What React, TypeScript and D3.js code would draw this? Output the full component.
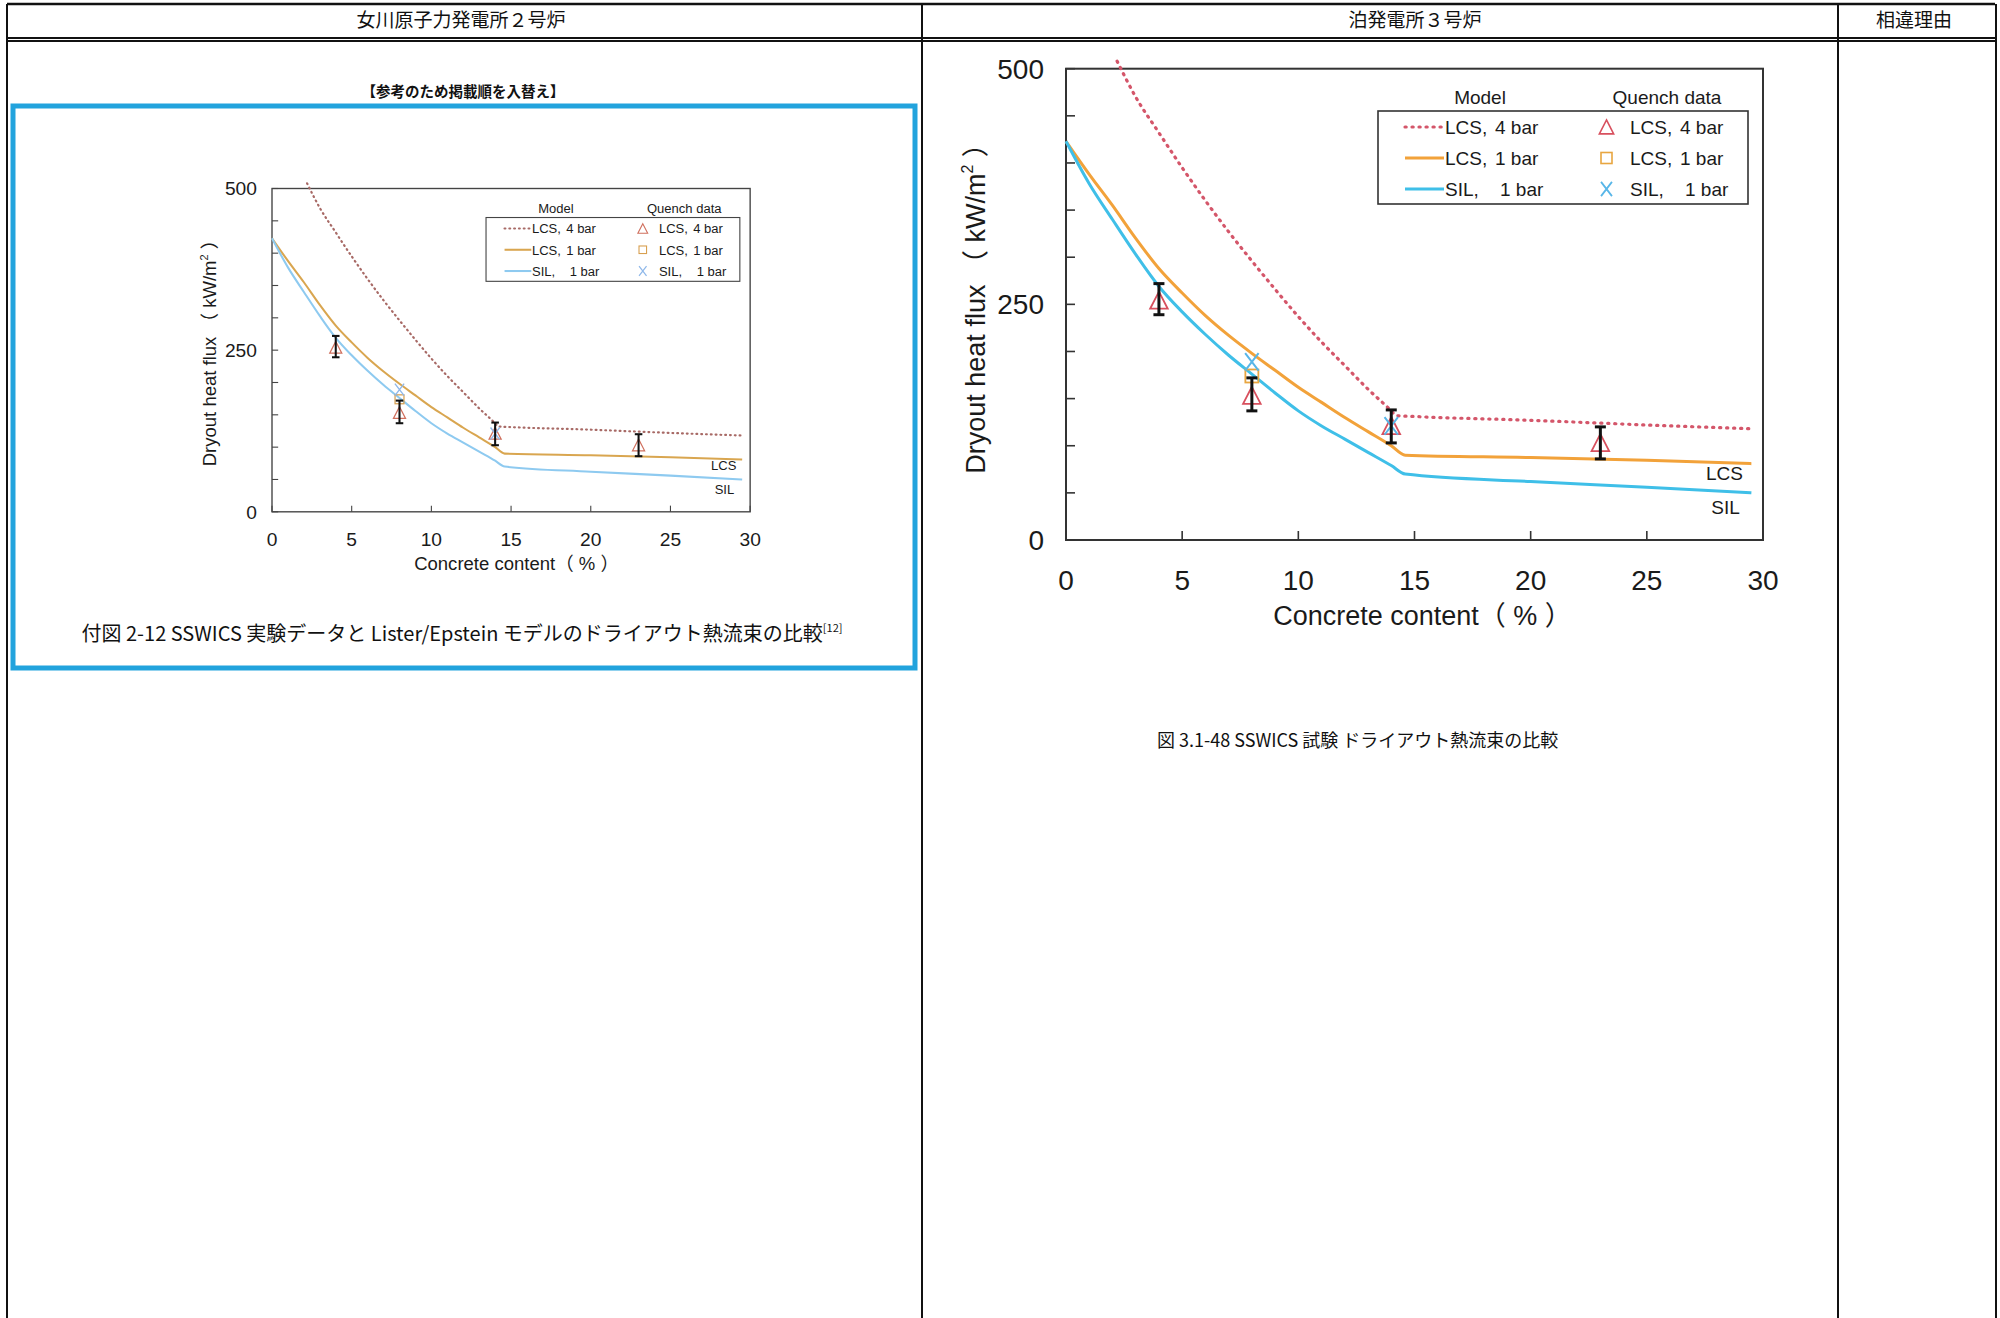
import React, { useEffect } from 'react';
import * as d3 from 'd3';

const W = 2000;
const H = 1318;

// ---- Model curves (x = concrete content %, y = dryout heat flux kW/m2) ----
const lcs4X = [2.2, 3, 4, 5, 6, 7, 8, 9, 10, 11, 12, 13, 14, 14.2, 15, 20, 23, 25, 29.5];
const lcs4Y = [508, 470, 432, 395, 360, 327, 296, 266, 237, 210, 185, 160, 137, 132, 131, 127, 124, 122, 118];
const lcs1X = [0, 1, 2, 3, 4, 5, 6, 7, 8, 9, 10, 11, 12, 13, 14, 14.6, 20, 25, 29.5];
const lcs1Y = [423, 388, 355, 320, 288, 262, 238, 217, 198, 180, 162, 146, 130, 115, 100, 90, 87.5, 84.5, 81];
const sil1X = [0, 1, 2, 3, 4, 5, 6, 7, 8, 9, 10, 11, 12, 13, 14, 14.6, 20, 25, 29.5];
const sil1Y = [423, 378, 340, 303, 269, 242, 218, 196, 176, 156, 137, 121, 107, 93, 79, 70, 62, 56, 50];

// ---- Quench data ----
const triX = [4, 8, 14, 23];
const triY = [253, 152, 120, 102];
const sqX = [8];
const sqY = [174];
const crossX = [8, 14];
const crossY = [189, 121];
const errX = [4, 8, 14, 23];
const errLo = [239, 137, 103, 86];
const errHi = [272, 172, 138, 120];

// ---- Axes ----
const yTicks = [0, 50, 100, 150, 200, 250, 300, 350, 400, 450, 500];
const yLabels = [0, 250, 500];
const xTicks = [0, 5, 10, 15, 20, 25, 30];

const PW = 697;
const PH = 471.3;

type Palette = {
  id: string; dot: string; orange: string; blue: string; tri: string; sq: string; cross: string; text: string; frame: string;
};

const rightPal: Palette = {
  id: 'r', dot: '#d4566a', orange: '#f2a23a', blue: '#3fbfe8', tri: '#d8505e', sq: '#e8a640', cross: '#58b6e8', text: '#1a1a1a', frame: '#333',
};
const leftPal: Palette = {
  id: 'l', dot: '#a86a66', orange: '#d9a650', blue: '#8ecaf0', tri: '#d0705e', sq: '#d8a050', cross: '#8fb8ea', text: '#1a1a1a', frame: '#444',
};

const SANS = '"Liberation Sans", Arial, "Noto Sans CJK JP", sans-serif';
const JP = '"Noto Sans CJK JP", sans-serif';

function zip(xs: number[], ys: number[]): [number, number][] {
  return xs.map((x, i) => [x, ys[i]]);
}

function Chart({ pal }: { pal: Palette }) {
  const x = d3.scaleLinear().domain([0, 30]).range([0, PW]);
  const y = d3.scaleLinear().domain([0, 500]).range([PH, 0]);
  const line = d3.line<[number, number]>().x(d => x(d[0])).y(d => y(d[1])).curve(d3.curveMonotoneX);
  const tri = (cx: number, cy: number, s: number) =>
    `M${cx},${cy - s * 0.62} L${cx + s * 0.55},${cy + s * 0.45} L${cx - s * 0.55},${cy + s * 0.45} Z`;
  const cross = (cx: number, cy: number, s: number) =>
    `M${cx - s * 0.42},${cy - s * 0.55} L${cx + s * 0.42},${cy + s * 0.55} M${cx + s * 0.42},${cy - s * 0.55} L${cx - s * 0.42},${cy + s * 0.55}`;

  const legRows = [58.3, 89.3, 120.3];
  const legText = (lx: number, ly: number, a: string, b: string, bx: number) => (
    <g fontFamily={SANS} fontSize={19} fill={pal.text}>
      <text x={lx} y={ly + 7}>{a}</text>
      <text x={bx} y={ly + 7}>{b}</text>
    </g>
  );
  const dotDash = '1.2 5.8';

  return (
    <g>
      <clipPath id={`clip-${pal.id}`}>
        <rect x={0} y={-12} width={PW} height={PH + 12} />
      </clipPath>
      {/* frame */}
      <rect x={0} y={0} width={PW} height={PH} fill="none" stroke={pal.frame} strokeWidth={2} />
      {yTicks.map(t => (
        <line key={'yt' + t} x1={0} x2={9} y1={y(t)} y2={y(t)} stroke={pal.frame} strokeWidth={1.6} />
      ))}
      {xTicks.map(t => (
        <line key={'xt' + t} x1={x(t)} x2={x(t)} y1={PH} y2={PH - 9} stroke={pal.frame} strokeWidth={1.6} />
      ))}
      {yLabels.map(t => (
        <text key={'yl' + t} x={-22} y={y(t) + 10} textAnchor="end" fontFamily={SANS} fontSize={28} fill={pal.text}>{t}</text>
      ))}
      {xTicks.map(t => (
        <text key={'xl' + t} x={x(t)} y={PH + 50} textAnchor="middle" fontFamily={SANS} fontSize={28} fill={pal.text}>{t}</text>
      ))}
      <text x={PW / 2 + 8} y={PH + 85} textAnchor="middle" fontFamily={SANS} fontSize={27} fill={pal.text} style={{ whiteSpace: 'pre' }}>
        {'Concrete content（ % ）'}
      </text>
      <text transform={`translate(-81,${PH / 2 - 2.4}) rotate(-90)`} textAnchor="middle" fontFamily={SANS} fontSize={27} fill={pal.text} style={{ whiteSpace: 'pre' }}>
        {'Dryout heat flux （ kW/m'}
        <tspan fontSize={16} dy={-12}>2</tspan>
        <tspan dy={12}>{' ）'}</tspan>
      </text>

      {/* model lines */}
      <g clipPath={`url(#clip-${pal.id})`}>
        <path d={line(zip(lcs4X, lcs4Y)) || ''} fill="none" stroke={pal.dot} strokeWidth={3.2} strokeDasharray={dotDash} strokeLinecap="round" />
      </g>
      <path d={line(zip(lcs1X, lcs1Y)) || ''} fill="none" stroke={pal.orange} strokeWidth={3} />
      <path d={line(zip(sil1X, sil1Y)) || ''} fill="none" stroke={pal.blue} strokeWidth={3} />

      {/* quench markers */}
      {triX.map((v, i) => (
        <path key={'tr' + i} d={tri(x(v), y(triY[i]), 16)} fill="none" stroke={pal.tri} strokeWidth={1.8} />
      ))}
      {sqX.map((v, i) => (
        <rect key={'sq' + i} x={x(v) - 6.5} y={y(sqY[i]) - 6.5} width={13} height={13} fill="none" stroke={pal.sq} strokeWidth={1.8} />
      ))}
      {crossX.map((v, i) => (
        <path key={'cr' + i} d={cross(x(v), y(crossY[i]), 16)} fill="none" stroke={pal.cross} strokeWidth={2} />
      ))}
      {/* error bars */}
      {errX.map((v, i) => (
        <g key={'eb' + i} stroke="#111" strokeWidth={3}>
          <line x1={x(v)} x2={x(v)} y1={y(errLo[i])} y2={y(errHi[i])} />
          <line x1={x(v) - 5.5} x2={x(v) + 5.5} y1={y(errLo[i])} y2={y(errLo[i])} />
          <line x1={x(v) - 5.5} x2={x(v) + 5.5} y1={y(errHi[i])} y2={y(errHi[i])} />
        </g>
      ))}

      {/* inline labels */}
      <text x={658.5} y={411} textAnchor="middle" fontFamily={SANS} fontSize={19} fill={pal.text}>LCS</text>
      <text x={659.5} y={445.5} textAnchor="middle" fontFamily={SANS} fontSize={19} fill={pal.text}>SIL</text>

      {/* legend */}
      <text x={414} y={35} textAnchor="middle" fontFamily={SANS} fontSize={19} fill={pal.text}>Model</text>
      <text x={601} y={35} textAnchor="middle" fontFamily={SANS} fontSize={19} fill={pal.text}>Quench data</text>
      <rect x={312} y={42.3} width={370} height={93} fill="#fff" stroke={pal.frame} strokeWidth={1.6} />
      <line x1={339} x2={376} y1={legRows[0]} y2={legRows[0]} stroke={pal.dot} strokeWidth={3.2} strokeDasharray={dotDash} strokeLinecap="round" />
      <line x1={339} x2={378} y1={legRows[1]} y2={legRows[1]} stroke={pal.orange} strokeWidth={3} />
      <line x1={339} x2={378} y1={legRows[2]} y2={legRows[2]} stroke={pal.blue} strokeWidth={3} />
      {legText(379, legRows[0], 'LCS,', '4 bar', 429)}
      {legText(379, legRows[1], 'LCS,', '1 bar', 429)}
      {legText(379, legRows[2], 'SIL,', '1 bar', 434)}
      <path d={tri(540.5, legRows[0] + 1, 13)} fill="none" stroke={pal.tri} strokeWidth={1.6} />
      <rect x={535} y={legRows[1] - 5.5} width={11} height={11} fill="none" stroke={pal.sq} strokeWidth={1.6} />
      <path d={cross(540.5, legRows[2], 13)} fill="none" stroke={pal.cross} strokeWidth={1.8} />
      {legText(564, legRows[0], 'LCS,', '4 bar', 614)}
      {legText(564, legRows[1], 'LCS,', '1 bar', 614)}
      {legText(564, legRows[2], 'SIL,', '1 bar', 619)}
    </g>
  );
}

export default function App() {
  useEffect(() => {
    document.body.style.margin = '0';
    document.body.style.overflow = 'hidden';
  }, []);

  return (
    <svg width={W} height={H} viewBox={`0 0 ${W} ${H}`} style={{ position: 'absolute', left: 0, top: 0, background: '#fff' }}>
      <rect x={0} y={0} width={W} height={H} fill="#fff" />
      {/* table frame */}
      <g stroke="#111" fill="none">
        <line x1={7} x2={1995} y1={4} y2={4} strokeWidth={2.5} />
        <line x1={7} x2={1995} y1={38} y2={38} strokeWidth={2} />
        <line x1={7} x2={1995} y1={41} y2={41} strokeWidth={2} />
        <line x1={7} x2={7} y1={4} y2={H} strokeWidth={2} />
        <line x1={922} x2={922} y1={4} y2={H} strokeWidth={2} />
        <line x1={1838} x2={1838} y1={4} y2={H} strokeWidth={2} />
        <line x1={1996} x2={1996} y1={4} y2={H} strokeWidth={2} />
      </g>
      <g fontFamily={JP} fontSize={19} fill="#111" textAnchor="middle">
        <text x={461} y={27}>女川原子力発電所２号炉</text>
        <text x={1415} y={27}>泊発電所３号炉</text>
        <text x={1914} y={27}>相違理由</text>
      </g>

      {/* left panel */}
      <text x={463} y={97} textAnchor="middle" fontFamily={JP} fontSize={14.5} fontWeight="bold" fill="#111">【参考のため掲載順を入替え】</text>
      <rect x={13} y={106} width={902} height={562} fill="none" stroke="#22a3dd" strokeWidth={5} />
      <g transform="translate(272,188.5) scale(0.686)">
        <Chart pal={leftPal} />
      </g>
      <text x={462} y={641} textAnchor="middle" fontFamily={JP} fontSize={20} fill="#111">
        付図 2-12 SSWICS 実験データと Lister/Epstein モデルのドライアウト熱流束の比較
        <tspan fontSize={11} dy={-9}>[12]</tspan>
      </text>

      {/* right panel */}
      <g transform="translate(1066,68.7)">
        <Chart pal={rightPal} />
      </g>
      <text x={1157} y={747} fontFamily={JP} fontSize={18} fill="#111">
        図 3.1-48 SSWICS 試験 ドライアウト熱流束の比較
      </text>
    </svg>
  );
}
